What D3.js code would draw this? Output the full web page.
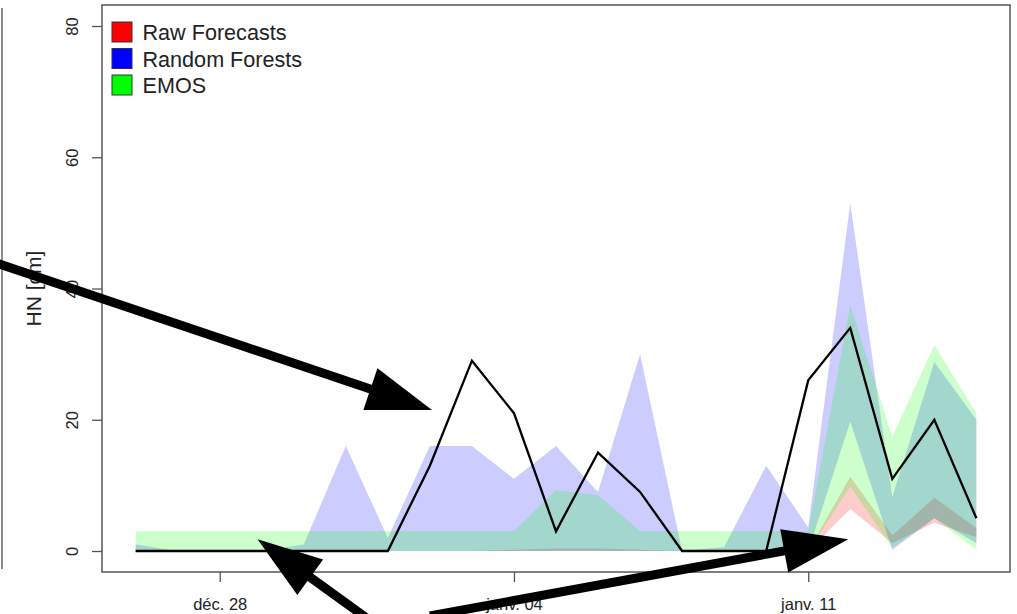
<!DOCTYPE html>
<html><head><meta charset="utf-8">
<script src="https://cdn.jsdelivr.net/npm/d3@7"></script>
<style>
html,body{margin:0;padding:0;background:#fff;}
svg{display:block;font-family:"Liberation Sans",Arial,Helvetica,sans-serif;}
</style></head><body>
<svg id="chart" width="1017" height="614"></svg>
<script>
// ---------- data ----------
const dates = ["2014-12-26","2014-12-27","2014-12-28","2014-12-29","2014-12-30","2014-12-31",
  "2015-01-01","2015-01-02","2015-01-03","2015-01-04","2015-01-05","2015-01-06","2015-01-07",
  "2015-01-08","2015-01-09","2015-01-10","2015-01-11","2015-01-12","2015-01-13","2015-01-14","2015-01-15"];
const observed = [0,0,0,0,0,0,0,13,29,21,3,15,9,0,0,0,26,34,11,20,5];
const rawLow   = [0,0,0,0,0,0,0,0,0,0,0,0,0,0,0,0,0,6.4,1.2,4.3,2.1];
const rawHigh  = [0,0,0,0,0,0,0,0,0,0.2,0.4,0.4,0.2,0,0,0,0,11.3,2.4,8.1,3.5];
const rfLow    = [0,0,0,0,0,0,0,0,0,0,0,0,0,0,0,0,0,19.7,0.2,5,1.2];
const rfHigh   = [1,0,0,0,1,16,2,16,16,11,16,9,30,0,0.6,13,3.6,53,8.2,28.8,20];
const emosLow  = [0,0,0,0,0,0,0,0,0,0,0,0,0,0,0,0,0,9.8,0.5,5,0.2];
const emosHigh = [3,3,3,3,3,3,3,3,3,3,9.3,8.5,3,3,3,3,3,37.5,17.4,31.4,21];
const seriesNames  = ["Raw Forecasts","Random Forests","EMOS"];
const seriesColors = ["#ff0000","#0000ff","#00ff00"];
const yTicks = [0,20,40,60,80];
const xTickDates  = ["2014-12-28","2015-01-04","2015-01-11"];
const xTickLabels = ["déc. 28","janv. 04","janv. 11"];
const yLabel = "HN [cm]";
// annotation arrows, in data units: [days after first date, value]
const arrowFrom = [[-3.36,44.0],[5.62,-10.8],[7.0,-9.9]];
const arrowTo   = [[7.05,21.5],[2.90,1.8],[16.95,1.8]];

// ---------- layout ----------
const W = 1017, H = 614;
const box = {left:102, top:5, right:1010, bottom:572};
const parse = d3.timeParse("%Y-%m-%d");
const dayMs = 864e5;
const dts = dates.map(parse);
const t0 = dts[0].getTime(), t1 = dts[dts.length-1].getTime();
const pad = (t1 - t0) * 0.04;
const x = d3.scaleTime().domain([new Date(t0 - pad), new Date(t1 + pad)]).range([box.left, box.right]);
const y = d3.scaleLinear().domain([0 - 80*0.04, 80 + 80*0.04]).range([box.bottom, box.top]);

const svg = d3.select("#chart");
svg.append("rect").attr("width", W).attr("height", H).attr("fill", "#fff");

const bands = [
  {lo: rawLow, hi: rawHigh},
  {lo: rfLow, hi: rfHigh},
  {lo: emosLow, hi: emosHigh}
];
const area = d3.area().x(d => x(d.date)).y0(d => y(d.lo)).y1(d => y(d.hi));
bands.forEach((b, k) => {
  const pts = dts.map((d, i) => ({date: d, lo: b.lo[i], hi: b.hi[i]}));
  svg.append("path").datum(pts).attr("d", area)
    .attr("fill", seriesColors[k]).attr("fill-opacity", 0.2).attr("stroke", "none");
});

const line = d3.line().x(d => x(d.date)).y(d => y(d.v));
svg.append("path").datum(dts.map((d, i) => ({date: d, v: observed[i]})))
  .attr("d", line).attr("fill", "none").attr("stroke", "#000").attr("stroke-width", 2.3)
  .attr("stroke-linejoin", "miter");

// box
svg.append("rect").attr("x", box.left).attr("y", box.top)
  .attr("width", box.right - box.left).attr("height", box.bottom - box.top)
  .attr("fill", "none").attr("stroke", "#555").attr("stroke-width", 1.5);

// y axis
const yAxis = svg.append("g").attr("transform", `translate(${box.left},0)`)
  .call(d3.axisLeft(y).tickValues(yTicks).tickSize(10).tickFormat(d3.format("d")));
yAxis.select(".domain").remove();
yAxis.selectAll(".tick line").attr("stroke", "#555").attr("stroke-width", 1.3);
yAxis.selectAll(".tick text").attr("transform", "rotate(-90)")
  .attr("x", 0).attr("y", -24).attr("dy", 0).attr("text-anchor", "middle")
  .attr("font-size", 16.5).attr("fill", "#222").attr("font-family", null);

// x axis
const xAxis = svg.append("g").attr("transform", `translate(0,${box.bottom})`)
  .call(d3.axisBottom(x).tickValues(xTickDates.map(parse)).tickSize(10)
    .tickFormat((d, i) => xTickLabels[i]));
xAxis.select(".domain").remove();
xAxis.selectAll(".tick line").attr("stroke", "#555").attr("stroke-width", 1.3);
xAxis.selectAll(".tick text").attr("y", 38).attr("dy", 0)
  .attr("font-size", 16.5).attr("fill", "#222").attr("font-family", null);

// y label
svg.append("text").attr("transform", `translate(41,${(box.top + box.bottom) / 2}) rotate(-90)`)
  .attr("text-anchor", "middle").attr("font-size", 21).attr("fill", "#222").text(yLabel);

// legend
const leg = svg.append("g");
seriesNames.forEach((n, i) => {
  const yy = 22 + i * 26.5;
  leg.append("rect").attr("x", 112).attr("y", yy).attr("width", 20).attr("height", 20)
    .attr("fill", seriesColors[i]).attr("stroke", "#333").attr("stroke-width", 1);
  leg.append("text").attr("x", 142.5).attr("y", yy + 18.3)
    .attr("font-size", 21.6).attr("fill", "#222").text(n);
});

// left neighbour panel edge
svg.append("line").attr("x1", 2).attr("x2", 2).attr("y1", 8).attr("y2", 569)
  .attr("stroke", "#666").attr("stroke-width", 1.5);

// annotation arrows
const toPx = p => [x(new Date(t0 + p[0] * dayMs)), y(p[1])];
arrowFrom.forEach((f, i) => {
  const a = toPx(f), b = toPx(arrowTo[i]);
  const dx = b[0] - a[0], dy = b[1] - a[1], L = Math.hypot(dx, dy);
  const ux = dx / L, uy = dy / L, px = -uy, py = ux;
  const headLen = 65, headHalf = 22;
  const bx = b[0] - ux * headLen, by = b[1] - uy * headLen;
  svg.append("line").attr("x1", a[0]).attr("y1", a[1]).attr("x2", bx + ux * 3).attr("y2", by + uy * 3)
    .attr("stroke", "#000").attr("stroke-width", 9);
  svg.append("path").attr("d", `M${b[0]},${b[1]}L${bx + px * headHalf},${by + py * headHalf}L${bx - px * headHalf},${by - py * headHalf}Z`)
    .attr("fill", "#000");
});
</script>
</body></html>
